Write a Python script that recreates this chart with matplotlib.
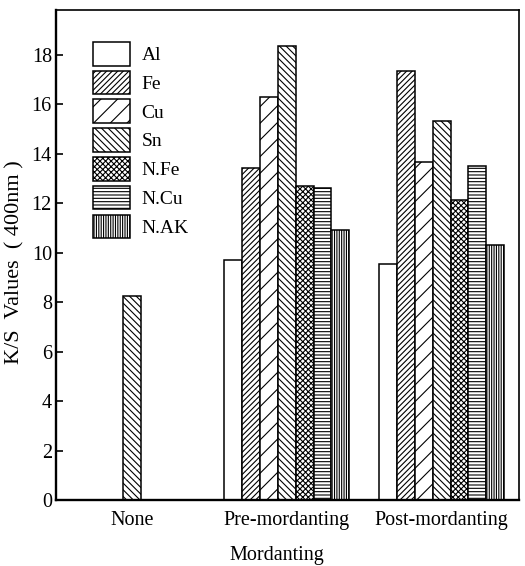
import matplotlib
matplotlib.use('Agg')
import matplotlib.pyplot as plt
import numpy as np

plt.rcParams['font.family'] = ['Liberation Serif', 'DejaVu Serif']
plt.rcParams['hatch.linewidth'] = 0.8

# data
groups = ['None', 'Pre-mordanting', 'Post-mordanting']
mordants = ['Al', 'Fe', 'Cu', 'Sn', 'N.Fe', 'N.Cu', 'N.AK']
al = [np.nan, 9.70, 9.52]
fe = [np.nan, 13.41, 17.33]
cu = [np.nan, 16.30, 13.66]
sn = [8.26, 18.35, 15.33]
nfe = [np.nan, 12.69, 12.13]
ncu = [np.nan, 12.61, 13.49]
nak = [np.nan, 10.92, 10.32]
series = [al, fe, cu, sn, nfe, ncu, nak]
hatches = ['', '//////', '//', '\\\\\\\\\\', 'xxxxxx', '-----', '|||||||']

fig, ax = plt.subplots(figsize=(5.25, 5.66), dpi=100)
fig.subplots_adjust(left=0.1067, right=0.9886, top=0.9823, bottom=0.1166)

x = np.arange(len(groups))
width = 0.1156
for i, (vals, name, h) in enumerate(zip(series, mordants, hatches)):
    ax.bar(x + (i - 3) * width, vals, width, label=name, color='white',
           edgecolor='black', hatch=h, linewidth=1.1)

ax.set_xlim(-0.49, 2.5)
ax.set_ylim(0, 19.8)
ax.set_yticks(range(0, 19, 2))
ax.set_xticks(x)
ax.set_xticklabels(groups, fontsize=14.5)
ax.tick_params(axis='y', direction='in', length=5, width=1.2, labelsize=14.5, pad=3)
ax.tick_params(axis='x', length=0, pad=8)

for side in ['left', 'bottom']:
    ax.spines[side].set_linewidth(1.7)
for side in ['top', 'right']:
    ax.spines[side].set_linewidth(1.2)

ax.set_ylabel('K/S  Values  ( 400nm )', fontsize=16)
ax.yaxis.set_label_coords(-0.068, 0.485)
ax.set_xlabel('Mordanting', fontsize=14.5)
ax.xaxis.set_label_coords(0.477, -0.093)

ax.legend(loc='upper left', bbox_to_anchor=(0.08, 0.935), frameon=False,
          fontsize=14, handlelength=1.9, handleheight=1.5,
          labelspacing=0.26, handletextpad=0.6, borderpad=0, borderaxespad=0)

fig.savefig('out.png', dpi=100)
